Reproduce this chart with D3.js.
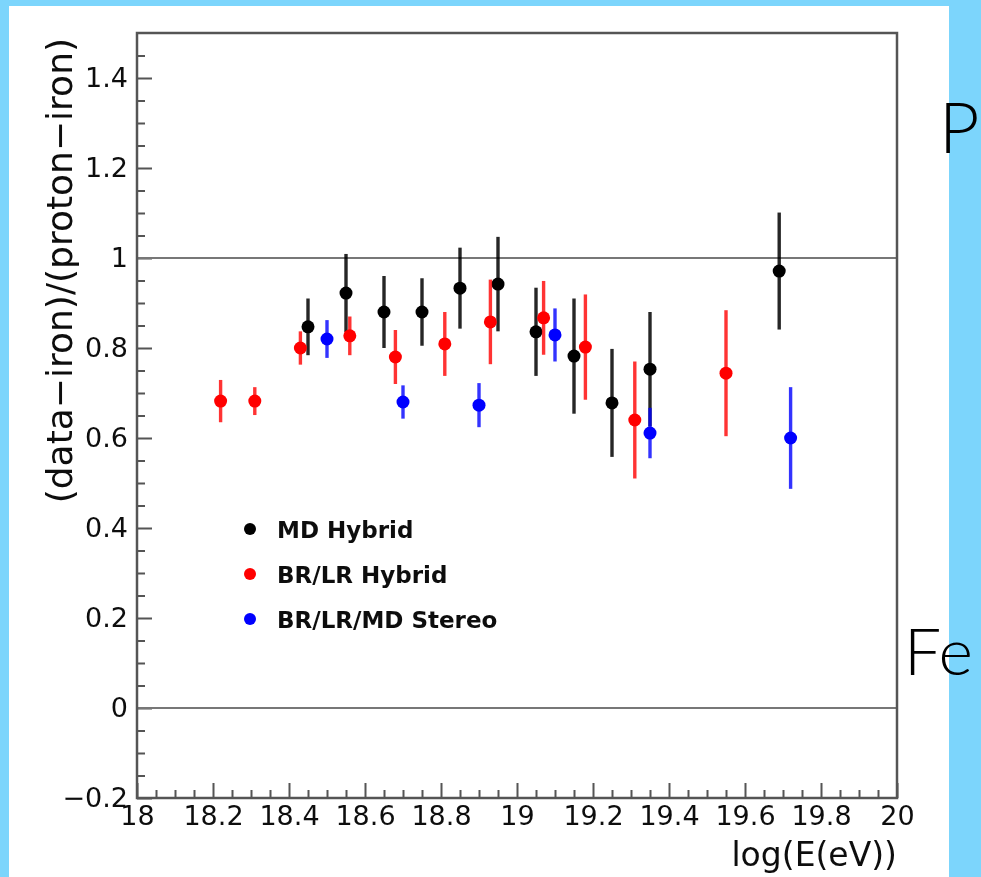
<!DOCTYPE html>
<html>
<head>
<meta charset="utf-8">
<script src="https://cdn.jsdelivr.net/npm/d3@7"></script>
<style>
  html, body { margin: 0; padding: 0; background: #7cd5fc; }
  svg { display: block; }
</style>
</head>
<body>
<svg id="chart" width="981" height="877"></svg>
<script>
// Energy bins (log10 E/eV), mean ratio and its error for each data set
const mdEnergy = [18.45, 18.55, 18.65, 18.75, 18.85, 18.95, 19.05, 19.15, 19.25, 19.35, 19.69];
const mdValue  = [0.847, 0.922, 0.880, 0.880, 0.933, 0.942, 0.836, 0.782, 0.678, 0.753, 0.971];
const mdError  = [0.063, 0.087, 0.080, 0.075, 0.090, 0.105, 0.098, 0.128, 0.120, 0.127, 0.130];

const brEnergy = [18.22, 18.31, 18.43, 18.56, 18.68, 18.81, 18.93, 19.07, 19.18, 19.31, 19.55];
const brValue  = [0.682, 0.682, 0.800, 0.827, 0.780, 0.809, 0.858, 0.867, 0.802, 0.640, 0.744];
const brError  = [0.047, 0.031, 0.037, 0.043, 0.060, 0.071, 0.094, 0.082, 0.117, 0.130, 0.140];

const stEnergy = [18.50, 18.70, 18.90, 19.10, 19.35, 19.72];
const stValue  = [0.820, 0.680, 0.673, 0.829, 0.611, 0.600];
const stError  = [0.042, 0.037, 0.049, 0.059, 0.056, 0.113];

const seriesNames  = ["MD Hybrid", "BR/LR Hybrid", "BR/LR/MD Stereo"];
const seriesColors = ["#000000", "#ff0000", "#0000ff"];

const xTickValues = [18, 18.2, 18.4, 18.6, 18.8, 19, 19.2, 19.4, 19.6, 19.8, 20];
const yTickValues = [-0.2, 0, 0.2, 0.4, 0.6, 0.8, 1, 1.2, 1.4];
const referenceLines = [0, 1];

const svg = d3.select("#chart");

// white panel
svg.append("rect").attr("x", 9).attr("y", 6).attr("width", 940).attr("height", 880).attr("fill", "#ffffff");

// side labels: proton above, iron below
svg.append("text").attr("x", 939).attr("y", 153)
  .attr("font-family", "Lato, 'Open Sans', sans-serif").attr("font-weight", 300)
  .attr("font-size", 70).attr("fill", "#000").text("P");
svg.append("text").attr("x", 904).attr("y", 675)
  .attr("font-family", "Lato, 'Open Sans', sans-serif").attr("font-weight", 300)
  .attr("font-size", 66).attr("fill", "#000").text("Fe");

const defs = svg.append("defs");
defs.append("filter").attr("id", "soft").attr("x", "-5%").attr("y", "-5%").attr("width", "110%").attr("height", "110%")
  .append("feGaussianBlur").attr("stdDeviation", 0.7);

const g = svg.append("g").attr("filter", "url(#soft)");

const x = d3.scaleLinear().domain([18, 20]).range([137, 897]);
const y = d3.scaleLinear().domain([-0.2, 1.5]).range([798, 33]);

const fmt = d3.format("~g");
const minorX = d3.range(0, 41).map(i => 18 + i * 0.05).filter(v => !xTickValues.some(t => Math.abs(t - v) < 1e-6));
const minorY = d3.range(0, 35).map(i => -0.2 + i * 0.05).filter(v => !yTickValues.some(t => Math.abs(t - v) < 1e-6) && v < 1.49);

const axisFont = "'DejaVu Sans', sans-serif";
const ink = "#111";

// y axis (ticks drawn inward)
g.append("g").attr("transform", `translate(${x(18)},0)`)
  .call(d3.axisLeft(y).tickValues(yTickValues).tickFormat(fmt).tickSizeInner(-15).tickSizeOuter(0).tickPadding(9));
g.append("g").attr("transform", `translate(${x(18)},0)`)
  .call(d3.axisLeft(y).tickValues(minorY).tickFormat("").tickSizeInner(-8).tickSizeOuter(0));

// x axis
g.append("g").attr("transform", `translate(0,${y(-0.2)})`)
  .call(d3.axisBottom(x).tickValues(xTickValues).tickFormat(fmt).tickSizeInner(-15).tickSizeOuter(0).tickPadding(8));
g.append("g").attr("transform", `translate(0,${y(-0.2)})`)
  .call(d3.axisBottom(x).tickValues(minorX).tickFormat("").tickSizeInner(-8).tickSizeOuter(0));

g.selectAll(".domain").remove();
g.selectAll(".tick line").attr("stroke", "#555").attr("stroke-width", 2);
g.selectAll(".tick text").attr("font-family", axisFont).attr("font-size", 27).attr("fill", ink);

// reference lines at iron (0) and proton (1)
g.selectAll("line.ref").data(referenceLines).join("line").attr("class", "ref")
  .attr("x1", x(18)).attr("x2", x(20)).attr("y1", d => y(d)).attr("y2", d => y(d))
  .attr("stroke", "#777").attr("stroke-width", 2.2);

// frame
g.append("rect").attr("x", x(18)).attr("y", y(1.5)).attr("width", x(20) - x(18)).attr("height", y(-0.2) - y(1.5))
  .attr("fill", "none").attr("stroke", "#555").attr("stroke-width", 2.5);

// axis titles
g.append("text").attr("transform", `translate(${72},${38}) rotate(-90)`)
  .attr("text-anchor", "end").attr("font-family", axisFont).attr("font-size", 36).attr("fill", ink)
  .text("(data\u2212iron)/(proton\u2212iron)");
g.append("text").attr("x", 897).attr("y", 866).attr("text-anchor", "end")
  .attr("font-family", axisFont).attr("font-size", 33).attr("fill", ink)
  .text("log(E(eV))");

// data series with error bars
const series = [
  {E: mdEnergy, V: mdValue, S: mdError},
  {E: brEnergy, V: brValue, S: brError},
  {E: stEnergy, V: stValue, S: stError}
];
series.forEach((s, k) => {
  const pts = s.E.map((e, i) => ({e, v: s.V[i], s: s.S[i]}));
  const sg = g.append("g");
  sg.selectAll("line").data(pts).join("line")
    .attr("x1", d => x(d.e)).attr("x2", d => x(d.e))
    .attr("y1", d => y(d.v + d.s)).attr("y2", d => y(d.v - d.s))
    .attr("stroke", seriesColors[k]).attr("stroke-width", 3.4).attr("opacity", k === 0 ? 0.85 : 0.8);
  sg.selectAll("circle").data(pts).join("circle")
    .attr("cx", d => x(d.e)).attr("cy", d => y(d.v)).attr("r", 6.5)
    .attr("fill", seriesColors[k]);
});

// legend
const legend = g.append("g");
seriesNames.forEach((name, i) => {
  const ly = 529 + i * 45;
  legend.append("circle").attr("cx", 250).attr("cy", ly).attr("r", 6).attr("fill", seriesColors[i]);
  legend.append("text").attr("x", 277).attr("y", ly + 9)
    .attr("font-family", axisFont).attr("font-weight", "bold").attr("font-size", 23).attr("fill", ink)
    .text(name);
});
</script>
</body>
</html>
